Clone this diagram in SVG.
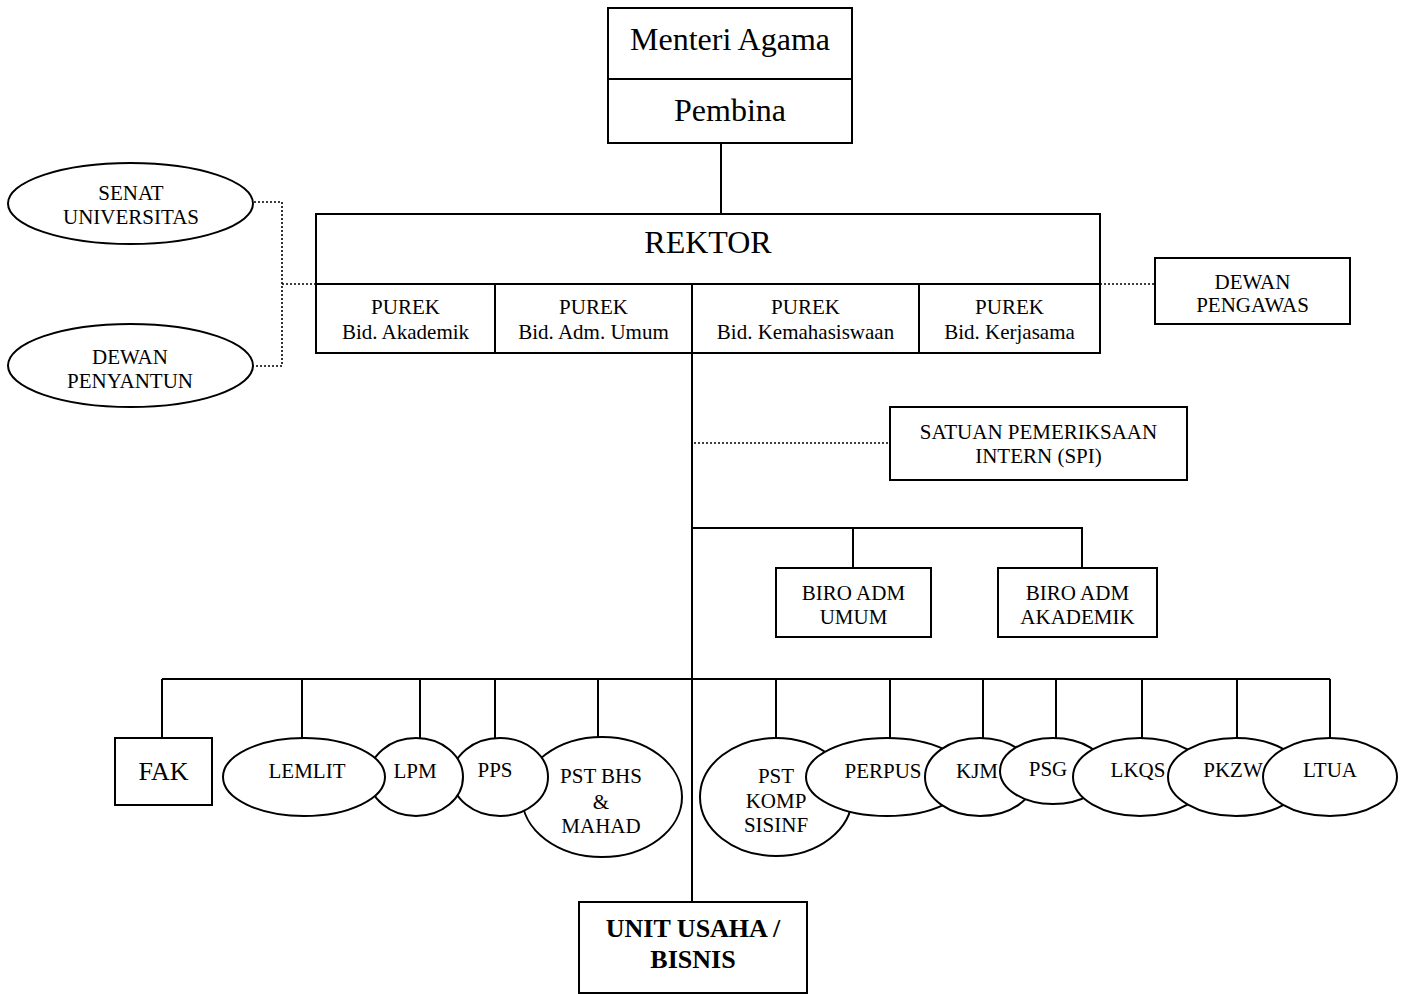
<svg xmlns="http://www.w3.org/2000/svg" width="1401" height="994" viewBox="0 0 1401 994">
<style>
.bg{fill:#fff}
.box{fill:#fff;stroke:#000;stroke-width:2}
.ln{fill:none;stroke:#000;stroke-width:2}
.dot{fill:none;stroke:#000;stroke-width:1.6;stroke-dasharray:2 2}
text{font-family:"Liberation Serif","Times New Roman",serif;fill:#000;text-anchor:middle}
.t32{font-size:32px}
.t21{font-size:21px}
.t26{font-size:26px}
.b26{font-size:26px;font-weight:bold}
</style>
<rect class="bg" x="0" y="0" width="1401" height="994"/>
<g id="connectors">
<line class="ln" x1="721" y1="143" x2="721" y2="214"/>
<line class="ln" x1="692" y1="353" x2="692" y2="902"/>
<polyline class="dot" points="250,202 282,202 282,366 252,366"/>
<line class="dot" x1="282" y1="284" x2="316" y2="284"/>
<line class="dot" x1="1100" y1="284" x2="1155" y2="284"/>
<line class="dot" x1="694" y1="443" x2="890" y2="443"/>
<polyline class="ln" points="692,528 1082,528 1082,568"/>
<line class="ln" x1="853" y1="528" x2="853" y2="568"/>
<line class="ln" x1="162" y1="679" x2="1330" y2="679"/>
<line class="ln" x1="162" y1="679" x2="162" y2="738"/>
<line class="ln" x1="302" y1="679" x2="302" y2="738"/>
<line class="ln" x1="420" y1="679" x2="420" y2="738"/>
<line class="ln" x1="495" y1="679" x2="495" y2="738"/>
<line class="ln" x1="598" y1="679" x2="598" y2="737"/>
<line class="ln" x1="776" y1="679" x2="776" y2="739"/>
<line class="ln" x1="890" y1="679" x2="890" y2="738"/>
<line class="ln" x1="983" y1="679" x2="983" y2="738"/>
<line class="ln" x1="1056" y1="679" x2="1056" y2="738"/>
<line class="ln" x1="1142" y1="679" x2="1142" y2="738"/>
<line class="ln" x1="1237" y1="679" x2="1237" y2="738"/>
<line class="ln" x1="1330" y1="679" x2="1330" y2="738"/>
</g>
<g id="menteri">
<rect class="box" x="608" y="8" width="244" height="135"/>
<line class="ln" x1="608" y1="79" x2="852" y2="79"/>
<text class="t32" x="730" y="50">Menteri Agama</text>
<text class="t32" x="730" y="121">Pembina</text>
</g>
<g id="senat">
<ellipse class="box" cx="130.5" cy="203.5" rx="122.5" ry="40.5"/>
<text class="t21" x="131" y="200">SENAT</text>
<text class="t21" x="131" y="224">UNIVERSITAS</text>
</g>
<g id="penyantun">
<ellipse class="box" cx="130.5" cy="365.5" rx="122.5" ry="41.5"/>
<text class="t21" x="130" y="364">DEWAN</text>
<text class="t21" x="130" y="388">PENYANTUN</text>
</g>
<g id="rektor">
<rect class="box" x="316" y="214" width="784" height="139"/>
<line class="ln" x1="316" y1="284" x2="1100" y2="284"/>
<line class="ln" x1="495" y1="284" x2="495" y2="353"/>
<line class="ln" x1="692" y1="284" x2="692" y2="353"/>
<line class="ln" x1="919" y1="284" x2="919" y2="353"/>
<text class="t32" x="708" y="253">REKTOR</text>
<text class="t21" x="405.5" y="314">PUREK</text>
<text class="t21" x="405.5" y="339">Bid. Akademik</text>
<text class="t21" x="593.5" y="314">PUREK</text>
<text class="t21" x="593.5" y="339">Bid. Adm. Umum</text>
<text class="t21" x="805.5" y="314">PUREK</text>
<text class="t21" x="805.5" y="339">Bid. Kemahasiswaan</text>
<text class="t21" x="1009.5" y="314">PUREK</text>
<text class="t21" x="1009.5" y="339">Bid. Kerjasama</text>
</g>
<g id="pengawas">
<rect class="box" x="1155" y="258" width="195" height="66"/>
<text class="t21" x="1252.5" y="289">DEWAN</text>
<text class="t21" x="1252.5" y="312">PENGAWAS</text>
</g>
<g id="spi">
<rect class="box" x="890" y="407" width="297" height="73"/>
<text class="t21" x="1038.5" y="439">SATUAN PEMERIKSAAN</text>
<text class="t21" x="1038.5" y="463">INTERN (SPI)</text>
</g>
<g id="biro-umum">
<rect class="box" x="776" y="568" width="155" height="69"/>
<text class="t21" x="853.5" y="600">BIRO ADM</text>
<text class="t21" x="853.5" y="624">UMUM</text>
</g>
<g id="biro-akademik">
<rect class="box" x="998" y="568" width="159" height="69"/>
<text class="t21" x="1077.5" y="600">BIRO ADM</text>
<text class="t21" x="1077.5" y="624">AKADEMIK</text>
</g>
<g id="fak">
<rect class="box" x="115" y="738" width="97" height="67"/>
<text class="t26" x="163.5" y="780">FAK</text>
</g>
<g id="pst-bhs">
<ellipse class="box" cx="602" cy="797" rx="80" ry="60"/>
<text class="t21" x="601" y="783">PST BHS</text>
<text class="t21" x="601" y="809">&amp;</text>
<text class="t21" x="601" y="833">MAHAD</text>
</g>
<g id="pps">
<ellipse class="box" cx="500" cy="777" rx="48" ry="39"/>
<text class="t21" x="495" y="777">PPS</text>
</g>
<g id="lpm">
<ellipse class="box" cx="416" cy="777" rx="47" ry="39"/>
<text class="t21" x="415" y="778">LPM</text>
</g>
<g id="lemlit">
<ellipse class="box" cx="304" cy="777" rx="81" ry="39"/>
<text class="t21" x="307" y="778">LEMLIT</text>
</g>
<g id="pst-komp">
<ellipse class="box" cx="776" cy="797" rx="76" ry="59"/>
<text class="t21" x="776" y="783">PST</text>
<text class="t21" x="776" y="808">KOMP</text>
<text class="t21" x="776" y="832">SISINF</text>
</g>
<g id="perpus">
<ellipse class="box" cx="887" cy="777" rx="81" ry="39"/>
<text class="t21" x="883" y="778">PERPUS</text>
</g>
<g id="kjm">
<ellipse class="box" cx="980" cy="777" rx="55" ry="39"/>
<text class="t21" x="977" y="778">KJM</text>
</g>
<g id="psg">
<ellipse class="box" cx="1053" cy="771" rx="53" ry="33"/>
<text class="t21" x="1048" y="776">PSG</text>
</g>
<g id="lkqs">
<ellipse class="box" cx="1140" cy="777" rx="67" ry="39"/>
<text class="t21" x="1138" y="777">LKQS</text>
</g>
<g id="pkzw">
<ellipse class="box" cx="1236" cy="777" rx="68" ry="39"/>
<text class="t21" x="1233" y="777">PKZW</text>
</g>
<g id="ltua">
<ellipse class="box" cx="1330" cy="777" rx="67" ry="39"/>
<text class="t21" x="1330" y="777">LTUA</text>
</g>
<g id="unit-usaha">
<rect class="box" x="579" y="902" width="228" height="91"/>
<text class="b26" x="693" y="937">UNIT USAHA /</text>
<text class="b26" x="693" y="968">BISNIS</text>
</g>
</svg>
